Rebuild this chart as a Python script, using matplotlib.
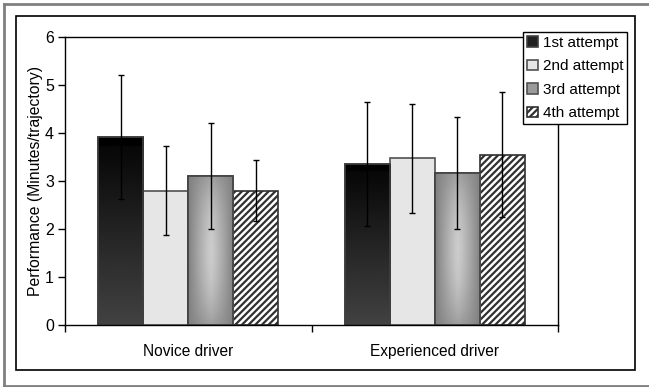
import numpy as np
import matplotlib.pyplot as plt
from matplotlib.patches import Rectangle
from matplotlib.lines import Line2D

# data
groups = ['Novice driver', 'Experienced driver']
attempts = ['1st attempt', '2nd attempt', '3rd attempt', '4th attempt']
means = {
    '1st attempt': [3.91, 3.36],
    '2nd attempt': [2.80, 3.47],
    '3rd attempt': [3.11, 3.17],
    '4th attempt': [2.80, 3.55],
}
errs = {
    '1st attempt': [1.29, 1.29],
    '2nd attempt': [0.92, 1.13],
    '3rd attempt': [1.10, 1.17],
    '4th attempt': [0.63, 1.30],
}
yticks = [0, 1, 2, 3, 4, 5, 6]

plt.rcParams['font.family'] = ['Liberation Sans', 'DejaVu Sans']
plt.rcParams['hatch.linewidth'] = 1.6

W, H = 649, 387
fig = plt.figure(figsize=(W / 100, H / 100), dpi=100)
ax = fig.add_axes([65 / W, 62 / H, 493 / W, 288 / H])

# background frames
fig.add_artist(Line2D([4 / W, 1], [1 - 4 / H] * 2, transform=fig.transFigure, color='#808080', lw=2))
fig.add_artist(Line2D([4 / W, 1], [1 / H] * 2, transform=fig.transFigure, color='#808080', lw=2))
fig.add_artist(Line2D([4 / W] * 2, [1 / H, 1 - 4 / H], transform=fig.transFigure, color='#808080', lw=2))
fig.add_artist(Rectangle((16 / W, 17 / H), 619 / W, 354 / H, transform=fig.transFigure,
                         fill=False, ec='black', lw=1.2))

x = np.arange(len(groups))
bw = 0.183
offsets = (np.arange(len(attempts)) - 1.5) * bw


def grad_dark(n=64):
    v = np.linspace(0.02, 0.26, n)[:, None] * np.ones((1, 8))
    v[:3] = 0.0
    return v


def grad_mid(n=64):
    yy, xx = np.mgrid[-1:1:n * 1j, -1:1:n * 1j]
    v = 0.50 + 0.30 * (1 - np.abs(xx) ** 1.2) * (1 - 0.6 * np.abs(yy) ** 2)
    return v


handles = []
for i, name in enumerate(attempts):
    if name == '1st attempt':
        kw = dict(color='#202020', edgecolor='#404040')
    elif name == '2nd attempt':
        kw = dict(color='#e6e6e6', edgecolor='#505050')
    elif name == '3rd attempt':
        kw = dict(color='#9a9a9a', edgecolor='#505050')
    else:
        kw = dict(color='white', edgecolor='#303030', hatch='/////')
    bars = ax.bar(x + offsets[i], means[name], bw, linewidth=1.2, zorder=2, label=name, **kw)
    if name in ('1st attempt', '3rd attempt'):
        img = grad_dark() if name == '1st attempt' else grad_mid()
        for b in bars:
            im = ax.imshow(img, cmap='gray', vmin=0, vmax=1, aspect='auto', origin='upper',
                           extent=[b.get_x(), b.get_x() + bw, 0, b.get_height()],
                           interpolation='bilinear', zorder=2.1)
            im.set_clip_path(b)
            ax.add_patch(Rectangle((b.get_x(), 0), bw, b.get_height(), fill=False,
                                   ec='#404040', lw=1.2, zorder=2.2))
    ax.errorbar(x + offsets[i], means[name], yerr=errs[name], fmt='none', ecolor='black',
                elinewidth=1, capsize=2.5, capthick=1, zorder=3)
    handles.append(bars)

ax.set_xlim(-0.5, 1.5)
ax.set_ylim(0, 6)
ax.set_yticks(yticks)
ax.set_xticks([-0.5, 0.5, 1.5])
ax.set_xticklabels([])
ax.set_xticks(x, minor=True)
ax.set_xticklabels(groups, minor=True)
ax.tick_params(axis='x', which='minor', length=0, pad=14, labelsize=11.2)
ax.tick_params(axis='x', which='major', direction='out', length=5, width=1)
ax.tick_params(axis='y', direction='out', length=5, width=1, labelsize=11.5, pad=3)
for s in ax.spines.values():
    s.set_linewidth(1)
    s.set_color('black')
ax.set_ylabel('Performance (Minutes/trajectory)', fontsize=11.3, labelpad=1.5)

leg = ax.legend(handles=handles, loc='upper left', bbox_to_anchor=(523 / W, 1 - 32 / H),
                bbox_transform=fig.transFigure, fontsize=11, frameon=True, fancybox=False,
                borderaxespad=0, handlelength=0.7, handleheight=0.7, handletextpad=0.35,
                labelspacing=0.62, borderpad=0.25)
leg.get_frame().set_edgecolor('black')
leg.get_frame().set_linewidth(1)
leg.get_frame().set_alpha(1)
leg.set_zorder(5)

fig.savefig('out.png', dpi=100)
